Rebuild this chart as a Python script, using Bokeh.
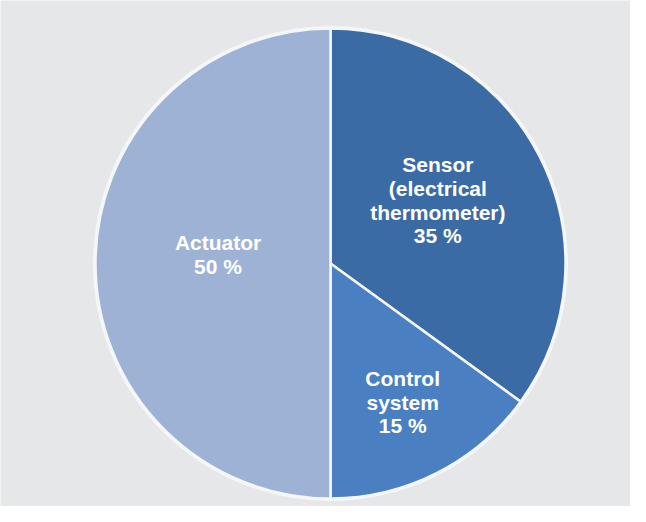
import math
from bokeh.plotting import figure
from bokeh.models import Range1d, ColumnDataSource
from bokeh.core.properties import value
from bokeh.embed import file_html
from bokeh.resources import INLINE

# ---- data ----
categories = ["Sensor\n(electrical\nthermometer)", "Control\nsystem", "Actuator"]
shares = [35, 15, 50]
colors = ["#3b6ba4", "#4a7fc1", "#9eb2d6"]
label_dist = [0.53, 0.665, 0.48]   # label distance as fraction of radius (style)
label_shift = [3.5, 0.5, -4.5]     # small angular nudge in degrees (style)

# ---- layout ----
W, H = 630, 506
cx, cy, R = 330, 506 - 263, 235

p = figure(width=W, height=H, output_backend="svg", toolbar_location=None,
           x_range=Range1d(0, W), y_range=Range1d(0, H),
           min_border=0, background_fill_color="#e6e7e8",
           border_fill_color="#e6e7e8", outline_line_color=None)
p.axis.visible = False
p.grid.visible = False

total = sum(shares)
starts, ends, lx, ly, texts = [], [], [], [], []
cum = 0.0
for cat, s, d, sh in zip(categories, shares, label_dist, label_shift):
    a_end = math.pi / 2 - cum / total * 2 * math.pi
    cum += s
    a_start = math.pi / 2 - cum / total * 2 * math.pi
    starts.append(a_start)
    ends.append(a_end)
    mid = (a_start + a_end) / 2 + math.radians(sh)
    lx.append(cx + d * R * math.cos(mid))
    ly.append(cy + d * R * math.sin(mid))
    texts.append(f"{cat}\n{s} %")

src = ColumnDataSource(dict(start=starts, end=ends, color=colors))
# outer light ring
p.circle(x=cx, y=cy, radius=R + 1.5, fill_color=None, line_color="#f4f6f8", line_width=2)
p.wedge(x=cx, y=cy, radius=R, start_angle="start", end_angle="end",
        fill_color="color", line_color="#f4f6f8", line_width=2.5, source=src)

lsrc = ColumnDataSource(dict(x=lx, y=ly, text=texts))
p.text(x="x", y="y", text="text", source=lsrc, text_align="center",
       text_baseline="middle", text_color="white", text_font=value("Liberation Sans"),
       text_font_style="bold", text_font_size="21px", text_line_height=1.03)

open("out.html", "w").write(file_html(p, INLINE))
